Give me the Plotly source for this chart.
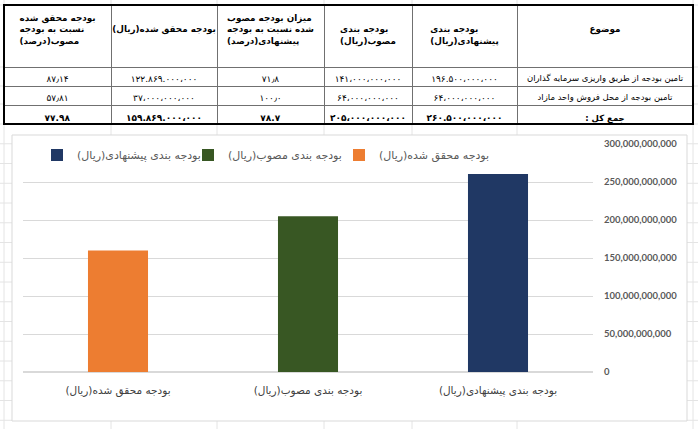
import plotly.graph_objects as go

W, H = 698, 429
NB = "\u00a0"
RLM = "\u200f"

# ---- chart data ----
categories = ["بودجه بندی پیشنهادی(ریال)", "بودجه بندی مصوب(ریال)", "بودجه محقق شده(ریال)"]
values = [260500000000, 205000000000, 159869000000]
colors = ["#203864", "#385723", "#ED7D31"]
y_ticks = [0, 50e9, 100e9, 150e9, 200e9, 250e9, 300e9]

# ---- table data (visual order: left -> right) ----
table_headers = [
    "بودجه محقق شده<br>نسبت به بودجه<br>مصوب(درصد)",
    "\u00a0<br>بودجه محقق شده(ریال)",
    "میزان بودجه مصوب<br>شده نسبت به بودجه<br>پیشنهادی(درصد)",
    "\u00a0<br>بودجه بندی<br>مصوب(ریال)",
    "\u00a0<br>بودجه بندی<br>پیشنهادی(ریال)",
    "\u00a0<br>موضوع",
]
col_realized_pct = ["۸۷٫۱۴", "۵۷٫۸۱", "<b>۷۷.۹۸</b>"]
col_realized = ["۱۲۲.۸۶۹.۰۰۰،۰۰۰", "۳۷،۰۰۰،۰۰۰،۰۰۰", "<b>۱۵۹.۸۶۹.۰۰۰،۰۰۰</b>"]
col_approved_pct = ["۷۱٫۸", "۱۰۰٫۰", "<b>۷۸.۷</b>"]
col_approved = ["۱۴۱،۰۰۰،۰۰۰،۰۰۰", "۶۴،۰۰۰،۰۰۰،۰۰۰", "<b>۲۰۵،۰۰۰،۰۰۰،۰۰۰</b>"]
col_proposed = ["۱۹۶.۵۰۰،۰۰۰،۰۰۰", "۶۴،۰۰۰،۰۰۰،۰۰۰", "<b>۲۶۰.۵۰۰،۰۰۰،۰۰۰</b>"]
col_subject = ["تامین\u00a0بودجه\u00a0از\u00a0طریق\u00a0واریزی\u00a0سرمایه\u00a0گذاران",
               "تامین\u00a0بودجه\u00a0از\u00a0محل\u00a0فروش\u00a0واحد\u00a0مازاد",
               "<b>\u200fجمع کل :\u200f</b>"]
col_widths = [107, 106, 107, 88, 105, 176]

# spreadsheet background grid (column / row boundaries, px)
sheet_cols = [4, 111, 217, 324, 412, 517, 693]
sheet_rows = [5, 67, 86, 104, 124] + [124 + 19.75 * k for k in range(1, 16)]


def px_x(v):
    return v / W


def px_y(v):
    return 1 - v / H


fig = go.Figure()

for name, val, col in zip(categories, values, colors):
    fig.add_trace(go.Bar(
        x=[name], y=[val], name=name, marker_color=col,
        marker_line_width=0, width=0.316,
    ))

fig.add_trace(go.Table(
    domain=dict(x=[px_x(4), px_x(693)], y=[px_y(124), px_y(5)]),
    columnwidth=col_widths,
    header=dict(
        values=[f"<b>{h.replace(' ', NB)}</b>" for h in table_headers],
        align="center",
        height=62,
        fill_color="white",
        line=dict(color="#707070", width=1),
        font=dict(family="DejaVu Sans", size=8.8, color="black"),
    ),
    cells=dict(
        values=[col_realized_pct, col_realized, col_approved_pct,
                col_approved, col_proposed, col_subject],
        align="center",
        height=19,
        fill_color="white",
        line=dict(color="#707070", width=1),
        font=dict(family="DejaVu Sans", size=[9, 9, 9, 9, 9, 8.5], color="black"),
    ),
))

shapes = []
for cx in sheet_cols:
    shapes.append(dict(type="line", xref="paper", yref="paper",
                       x0=px_x(cx), x1=px_x(cx), y0=0, y1=1,
                       line=dict(color="#e4e4e4", width=1), layer="below"))
for ry in sheet_rows:
    shapes.append(dict(type="line", xref="paper", yref="paper",
                       x0=0, x1=1, y0=px_y(ry), y1=px_y(ry),
                       line=dict(color="#e4e4e4", width=1), layer="below"))
shapes.append(dict(type="rect", xref="paper", yref="paper",
                   x0=px_x(12), x1=px_x(687), y0=px_y(421), y1=px_y(135),
                   line=dict(color="#d9d9d9", width=1), fillcolor="white", layer="below"))
shapes.append(dict(type="rect", xref="paper", yref="paper",
                   x0=px_x(4), x1=px_x(693), y0=px_y(124), y1=px_y(5),
                   line=dict(color="black", width=2), fillcolor="rgba(0,0,0,0)", layer="above"))

fig.update_layout(
    width=W, height=H,
    margin=dict(l=0, r=0, t=0, b=0),
    paper_bgcolor="white",
    plot_bgcolor="rgba(0,0,0,0)",
    barmode="overlay",
    showlegend=True,
    legend=dict(
        orientation="h", x=px_x(37), y=px_y(155), xanchor="left", yanchor="middle",
        font=dict(family="DejaVu Sans", size=11, color="#595959"),
        bgcolor="rgba(0,0,0,0)", traceorder="normal",
        entrywidth=106, entrywidthmode="pixels",
    ),
    xaxis=dict(
        domain=[px_x(23), px_x(593)],
        categoryorder="array", categoryarray=categories[::-1],
        showgrid=False, showline=False, ticks="", zeroline=False,
        ticklabelstandoff=10,
        tickfont=dict(family="DejaVu Sans", size=10.5, color="#404040"),
        automargin=False, fixedrange=True,
    ),
    yaxis=dict(
        domain=[1 - 372 / H, 1 - 144 / H],
        side="right", range=[0, 300e9], tickvals=y_ticks,
        tickformat=",", gridcolor="#d9d9d9", gridwidth=1,
        zeroline=True, zerolinecolor="#d9d9d9", showline=False,
        ticks="", ticklabelstandoff=10,
        tickfont=dict(family="Lato", size=9.5, color="#595959", weight="bold"),
        automargin=False, fixedrange=True,
    ),
    shapes=shapes,
)

fig.write_html("out.html", config={"displayModeBar": False},
               post_script="document.body.style.margin='0px';")
